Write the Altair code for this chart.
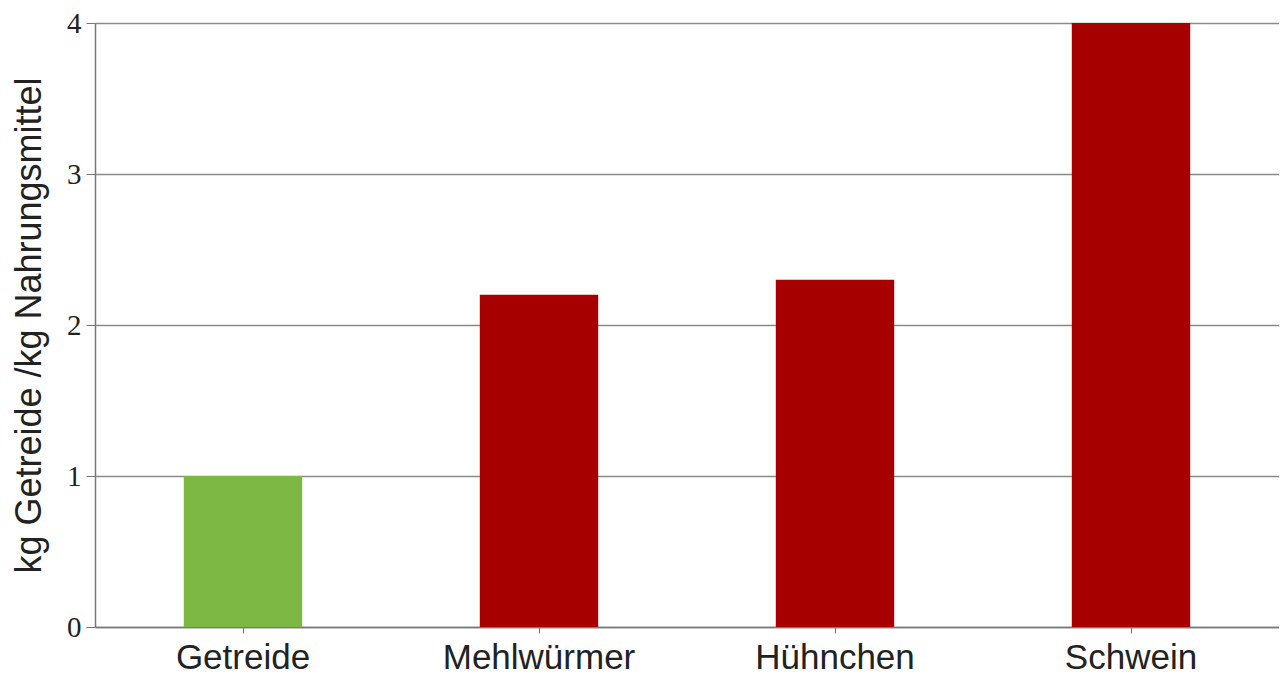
import altair as alt
import pandas as pd

categories = ["Getreide", "Mehlwürmer", "Hühnchen", "Schwein"]
values = [1.0, 2.2, 2.3, 4.0]
colors = ["#7cb843", "#a60000", "#a60000", "#a60000"]
y_ticks = [0, 1, 2, 3, 4]

df = pd.DataFrame({"Kategorie": categories, "Wert": values, "Farbe": colors})

chart = alt.Chart(df).mark_bar().encode(
    x=alt.X(
        "Kategorie:N",
        sort=categories,
        title=None,
        scale=alt.Scale(paddingInner=0.6, paddingOuter=0.3),
        axis=alt.Axis(
            labelAngle=0,
            labelFont="Liberation Sans",
            labelFontSize=35,
            labelLimit=0,
            labelColor="#222222",
            labelPadding=7,
            tickSize=6,
            tickColor="#777777",
            domainColor="#777777",
            domainWidth=1.5,
            grid=False,
        ),
    ),
    y=alt.Y(
        "Wert:Q",
        title="kg Getreide /kg Nahrungsmittel",
        scale=alt.Scale(domain=[0, 4], nice=False),
        axis=alt.Axis(
            values=y_ticks,
            labelFont="Liberation Serif",
            labelFontSize=29,
            labelColor="#222222",
            labelPadding=5,
            tickSize=9,
            tickColor="#777777",
            domainColor="#777777",
            domainWidth=1.5,
            gridColor="#8a8a8a",
            gridWidth=1.5,
            gridOpacity=1,
            titleFont="Liberation Sans",
            titleFontSize=36,
            titleFontWeight="normal",
            titleColor="#222222",
            titlePadding=18,
        ),
    ),
    color=alt.Color("Farbe:N", scale=None, legend=None),
).properties(
    width=1184,
    height=604,
    autosize=alt.AutoSizeParams(type="none"),
    padding={"left": 87, "top": 15, "right": 0, "bottom": 50},
).configure_view(stroke=None).configure(background="white")

chart.save("out.html", embed_options={"renderer": "svg", "actions": False})
